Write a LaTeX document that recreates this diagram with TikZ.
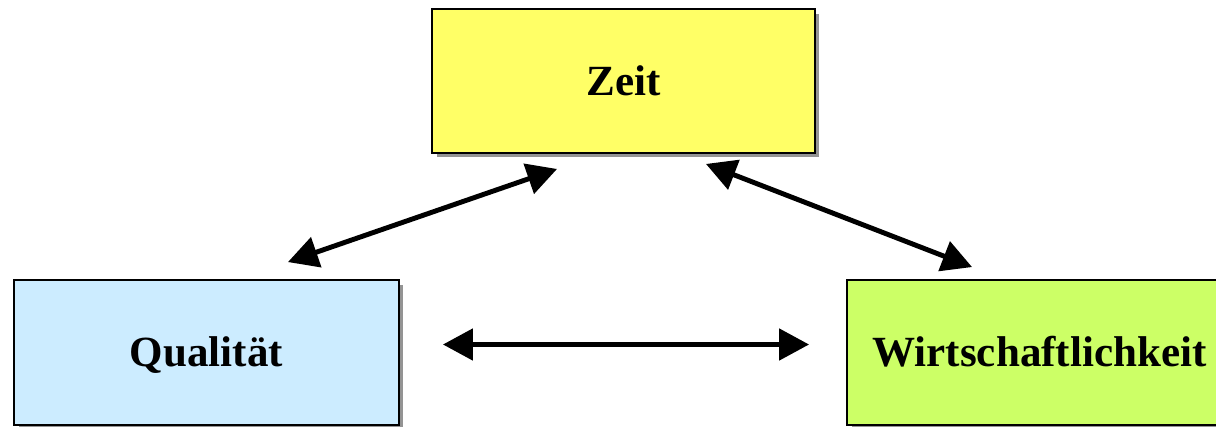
\documentclass[tikz,border=0pt]{standalone}
\usepackage{fontspec}
\setmainfont{Liberation Serif}
\usepackage{tikz}
\usetikzlibrary{arrows.meta,shadows}

\definecolor{zeitgelb}{HTML}{FFFF66}
\definecolor{qualblau}{HTML}{CCECFF}
\definecolor{wirtgruen}{HTML}{CCFF66}

\begin{document}
\begin{tikzpicture}[x=0.02cm, y=-0.02cm,
    goal/.style={draw=black, line width=1.1pt, minimum width=7.7cm, minimum height=2.9cm,
        font=\bfseries\fontsize{24.5}{29}\selectfont, inner sep=0pt,
        text height=16.2pt, text depth=0pt,
        drop shadow={fill=black!42, opacity=1, shadow xshift=0.09cm, shadow yshift=-0.09cm}},
    twoway/.style={line width=2.8pt, {Triangle[length=0.6cm,width=0.62cm]}-{Triangle[length=0.6cm,width=0.62cm]}}]

    \clip (0,0) rectangle (1216,426);
    \useasboundingbox (0,0) rectangle (1216,426);

    %Boxes
    \node[goal, fill=zeitgelb, minimum width=7.66cm, minimum height=2.88cm] (zeit) at (623.5,81) {Zeit}; %Top
    \node[goal, fill=qualblau] (qual) at (206.5,352.5) {Qualität}; %Left
    \node[goal, fill=wirtgruen] (wirt) at (1039.5,352.5) {Wirtschaftlichkeit}; %Right

    %Arrows
    \draw[twoway] ([shift={(-112,-17)}]qual.north east) -- ([shift={(126,15)}]zeit.south west);
    \draw[twoway] ([shift={(-110,10)}]zeit.south east) -- ([shift={(126,-12)}]wirt.north west);
    \draw[twoway] ([shift={(43,-8)}]qual.east) -- ([shift={(-37,-8)}]wirt.west);

\end{tikzpicture}
\end{document}
